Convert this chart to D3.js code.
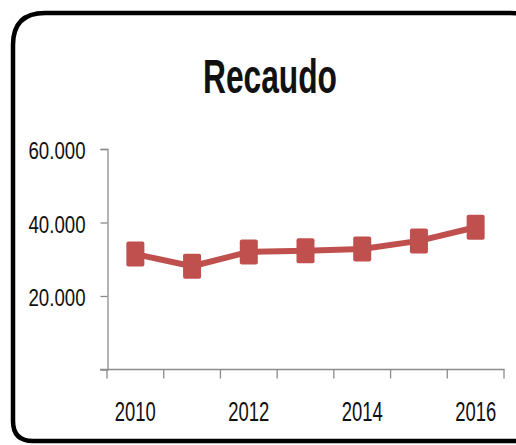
<!DOCTYPE html>
<html>
<head>
<meta charset="utf-8">
<script src="https://cdn.jsdelivr.net/npm/d3@7"></script>
<style>
  body { margin: 0; background: #fff; }
  svg { display: block; }
  text { font-family: "Liberation Sans", Arial, sans-serif; fill: #111; }
</style>
</head>
<body>
<script>
// datos
var years = ["2010", "2011", "2012", "2013", "2014", "2015", "2016"];
var recaudo = [31400, 28100, 32000, 32300, 32800, 35000, 38700];
var yTicks = [20000, 40000, 60000];
var xLabels = ["2010", "2012", "2014", "2016"];
var title = "Recaudo";

var W = 516, H = 445;
var color = "#C0504D";

var svg = d3.select("body").append("svg")
    .attr("width", W)
    .attr("height", H);

// marco redondeado
var p = d3.path();
var x0 = 13, y0 = 13, x1 = 542, y1 = 441, rTop = 32, rBot = 20;
p.moveTo(x0 + rTop, y0);
p.lineTo(x1 - rTop, y0);
p.quadraticCurveTo(x1, y0, x1, y0 + rTop);
p.lineTo(x1, y1 - rBot);
p.quadraticCurveTo(x1, y1, x1 - rBot, y1);
p.lineTo(x0 + rBot, y1);
p.quadraticCurveTo(x0, y1, x0, y1 - rBot);
p.lineTo(x0, y0 + rTop);
p.quadraticCurveTo(x0, y0, x0 + rTop, y0);
svg.append("path")
    .attr("d", p.toString())
    .attr("fill", "none")
    .attr("stroke", "#000")
    .attr("stroke-width", 4.5);

// título
svg.append("text")
    .attr("x", 203)
    .attr("y", 93)
    .attr("textLength", 134)
    .attr("lengthAdjust", "spacingAndGlyphs")
    .style("font-size", "48px")
    .style("font-weight", "bold")
    .text(title);

// escalas
var xScale = d3.scaleBand().domain(years).range([107, 504]).padding(0);
var yScale = d3.scaleLinear().domain([0, 60000]).range([369.5, 149]);

var loc = d3.formatLocale({decimal: ",", thousands: ".", grouping: [3], currency: ["$", ""]});
var fmt = loc.format(",.0f");

// eje Y
var yAxis = svg.append("g")
    .attr("transform", "translate(107.5,0)")
    .call(d3.axisLeft(yScale).tickValues(yTicks).tickSize(7).tickFormat(fmt));
yAxis.select(".domain").attr("stroke", "#8c8c8c").attr("stroke-width", 1.3);
yAxis.selectAll(".tick line").attr("stroke", "#8c8c8c").attr("stroke-width", 1.3);
yAxis.selectAll(".tick text")
    .attr("x", -22)
    .attr("dy", "0.42em")
    .attr("textLength", 57)
    .attr("lengthAdjust", "spacingAndGlyphs")
    .style("font-size", "23.5px")
    .style("font-family", "'Liberation Sans', Arial, sans-serif")
    .attr("fill", "#111");

// eje X
var xAxis = svg.append("g")
    .attr("transform", "translate(0," + yScale(0) + ")");
xAxis.append("line")
    .attr("x1", 100).attr("x2", xScale.range()[1] + 0.5)
    .attr("stroke", "#8c8c8c").attr("stroke-width", 1.3);
xAxis.selectAll(".xtick")
    .data(years.concat(["end"]))
    .enter().append("line")
    .attr("class", "xtick")
    .attr("x1", function(d) { return d === "end" ? xScale.range()[1] : xScale(d); })
    .attr("x2", function(d) { return d === "end" ? xScale.range()[1] : xScale(d); })
    .attr("y1", 0).attr("y2", 9)
    .attr("stroke", "#8c8c8c").attr("stroke-width", 1.3);
xAxis.selectAll(".xlabel")
    .data(xLabels)
    .enter().append("text")
    .attr("class", "xlabel")
    .attr("x", function(d) { return xScale(d) + xScale.bandwidth() / 2; })
    .attr("y", 51)
    .attr("text-anchor", "middle")
    .attr("textLength", 41)
    .attr("lengthAdjust", "spacingAndGlyphs")
    .style("font-size", "28.5px")
    .text(function(d) { return d; });

// línea
var cx = function(d, i) { return xScale(years[i]) + xScale.bandwidth() / 2; };
var line = d3.line()
    .x(cx)
    .y(function(d) { return yScale(d); });

svg.append("path")
    .attr("d", line(recaudo))
    .attr("fill", "none")
    .attr("stroke", color)
    .attr("stroke-width", 6)
    .attr("stroke-linejoin", "round");

// marcadores
svg.selectAll(".marker")
    .data(recaudo)
    .enter().append("rect")
    .attr("class", "marker")
    .attr("x", function(d, i) { return cx(d, i) - 9; })
    .attr("y", function(d) { return yScale(d) - 12.5; })
    .attr("width", 18)
    .attr("height", 25)
    .attr("rx", 2)
    .attr("fill", color);
</script>
</body>
</html>
